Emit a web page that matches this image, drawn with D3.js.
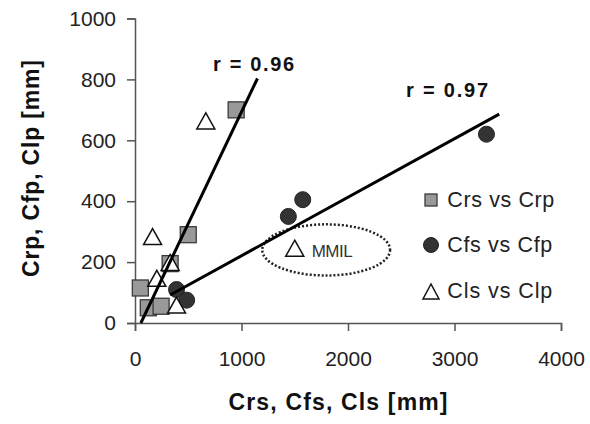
<!DOCTYPE html>
<html>
<head>
<meta charset="utf-8">
<script src="https://cdn.jsdelivr.net/npm/d3@7"></script>
<style>
  html, body { margin: 0; padding: 0; background: #fff; }
  svg { display: block; font-family: "Liberation Sans", Arial, sans-serif; }
</style>
</head>
<body>
<svg id="chart" width="590" height="424"></svg>
<script>
// ---- data ----
const crsX = [950, 500, 330, 50, 125, 245];
const crpY = [700, 290, 195, 115, 50, 55];
const cfsX = [1575, 1440, 390, 485, 3300];
const cfpY = [405, 350, 110, 75, 620];
const clsX = [665, 165, 330, 205, 390, 1500];
const clpY = [655, 275, 190, 138, 50, 237];
const fit96X = [55, 1150];
const fit96Y = [0, 803];
const fit97X = [330, 3420];
const fit97Y = [92, 686];
const xTicks = [0, 1000, 2000, 3000, 4000];
const yTicks = [0, 200, 400, 600, 800, 1000];
const legendLabels = ["Crs vs Crp", "Cfs vs Cfp", "Cls vs Clp"];
const rLabels = ["r = 0.96", "r = 0.97"];

// ---- layout ----
const svg = d3.select("#chart");
const plotL = 135, plotR = 561, plotT = 18.5, plotB = 323;
const x = d3.scaleLinear().domain([0, 4000]).range([plotL, plotR]);
const y = d3.scaleLinear().domain([0, 1000]).range([plotB, plotT]);

const axisColor = "#555";

// axes
const gx = svg.append("g").attr("transform", `translate(0,${plotB})`)
  .call(d3.axisBottom(x).tickValues(xTicks).tickFormat(d3.format("d")).tickSize(8).tickPadding(20));
const gy = svg.append("g").attr("transform", `translate(${plotL},0)`)
  .call(d3.axisLeft(y).tickValues(yTicks).tickFormat(d3.format("d")).tickSize(8).tickPadding(11));
[gx, gy].forEach(g => {
  g.select(".domain").attr("stroke", axisColor).attr("stroke-width", 1.5);
  g.selectAll(".tick line").attr("stroke", axisColor).attr("stroke-width", 1.5);
  g.selectAll(".tick text").attr("fill", "#222").attr("font-size", 21)
    .attr("font-family", "'Liberation Sans', Arial, sans-serif");
});

// axis titles
svg.append("text").attr("x", 338).attr("y", 410).attr("text-anchor", "middle")
  .attr("font-size", 23).attr("font-weight", "bold").attr("fill", "#111")
  .attr("textLength", 219).attr("lengthAdjust", "spacing")
  .text("Crs, Cfs, Cls [mm]");
svg.append("text").attr("transform", "translate(39,168.5) rotate(-90)")
  .attr("text-anchor", "middle")
  .attr("font-size", 23).attr("font-weight", "bold").attr("fill", "#111")
  .attr("textLength", 217).attr("lengthAdjust", "spacing")
  .text("Crp, Cfp, Clp [mm]");

// triangle helper (centroid at origin)
function tri(w, h) {
  return `M0,${-2 * h / 3}L${w / 2},${h / 3}L${-w / 2},${h / 3}Z`;
}

// ellipse (MMIL)
svg.append("ellipse")
  .attr("cx", x(1795)).attr("cy", y(240))
  .attr("rx", x(600) - x(0)).attr("ry", y(0) - y(84))
  .attr("fill", "none").attr("stroke", "#222").attr("stroke-width", 2.5)
  .attr("stroke-dasharray", "2,2");

// squares
const sq = 16;
svg.append("g").selectAll("rect").data(d3.range(crsX.length)).join("rect")
  .attr("x", i => x(crsX[i]) - sq / 2).attr("y", i => y(crpY[i]) - sq / 2)
  .attr("width", sq).attr("height", sq)
  .attr("fill", "#999").attr("stroke", "#3a3a3a").attr("stroke-width", 1.3);

// circles
svg.append("g").selectAll("circle").data(d3.range(cfsX.length)).join("circle")
  .attr("cx", i => x(cfsX[i])).attr("cy", i => y(cfpY[i])).attr("r", 8)
  .attr("fill", "#333").attr("stroke", "#222").attr("stroke-width", 1);

// triangles
svg.append("g").selectAll("path").data(d3.range(clsX.length)).join("path")
  .attr("transform", i => `translate(${x(clsX[i])},${y(clpY[i])})`)
  .attr("d", tri(18, 16))
  .attr("fill", "#fff").attr("stroke", "#111").attr("stroke-width", 1.5);

// fit lines
const line = d3.line().x(d => x(d[0])).y(d => y(d[1]));
svg.append("path").attr("d", line(d3.zip(fit96X, fit96Y)))
  .attr("stroke", "#000").attr("stroke-width", 3).attr("fill", "none");
svg.append("path").attr("d", line(d3.zip(fit97X, fit97Y)))
  .attr("stroke", "#000").attr("stroke-width", 3).attr("fill", "none");

// r labels
svg.append("text").attr("x", x(1113)).attr("y", y(828)).attr("text-anchor", "middle")
  .attr("font-size", 20).attr("font-weight", "bold").attr("fill", "#111")
  .attr("textLength", 81).attr("lengthAdjust", "spacing").text(rLabels[0]);
svg.append("text").attr("x", x(2930)).attr("y", y(743)).attr("text-anchor", "middle")
  .attr("font-size", 20).attr("font-weight", "bold").attr("fill", "#111")
  .attr("textLength", 82).attr("lengthAdjust", "spacing").text(rLabels[1]);

// MMIL label
svg.append("text").attr("x", x(1659)).attr("y", y(218))
  .attr("font-size", 17).attr("fill", "#333").attr("letter-spacing", -0.5).text("MMIL");

// legend
const legX = 431, textX = 447.3;
const rowsY = [200, 245, 293];
const baseY = [206.5, 251.7, 298];
const legW = [107, 105, 105];
const lg = svg.append("g");
lg.append("rect").attr("x", legX - 6).attr("y", rowsY[0] - 6).attr("width", 12).attr("height", 12)
  .attr("fill", "#999").attr("stroke", "#3a3a3a").attr("stroke-width", 1.3);
lg.append("circle").attr("cx", legX).attr("cy", rowsY[1]).attr("r", 7.5)
  .attr("fill", "#333").attr("stroke", "#222");
lg.append("path").attr("transform", `translate(${legX},${rowsY[2] + 1})`).attr("d", tri(16, 15))
  .attr("fill", "#fff").attr("stroke", "#111").attr("stroke-width", 1.5);
legendLabels.forEach((t, i) => {
  lg.append("text").attr("x", textX).attr("y", baseY[i])
    .attr("font-size", 21.5).attr("fill", "#222")
    .attr("textLength", legW[i]).attr("lengthAdjust", "spacing").text(t);
});
</script>
</body>
</html>
